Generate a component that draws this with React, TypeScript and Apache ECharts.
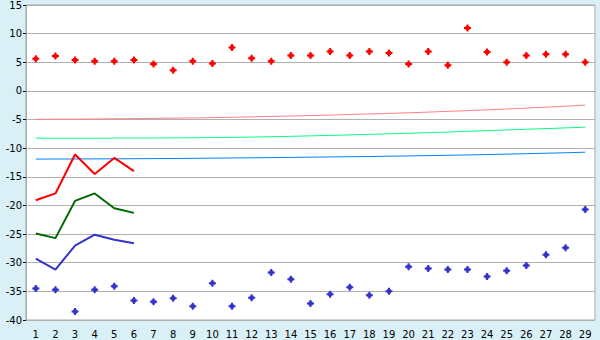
import React, { useEffect, useRef } from "react";
import * as echarts from "echarts";

const categories = Array.from({ length: 29 }, (_, i) => String(i + 1));

const redPoints = [5.6, 6.1, 5.4, 5.2, 5.2, 5.4, 4.7, 3.6, 5.2, 4.8, 7.6, 5.7, 5.2, 6.2, 6.2, 6.9, 6.2, 6.9, 6.6, 4.7, 6.9, 4.5, 11.0, 6.8, 5.0, 6.2, 6.4, 6.4, 5.0];
const bluePoints = [-34.5, -34.7, -38.5, -34.7, -34.1, -36.6, -36.8, -36.2, -37.6, -33.6, -37.6, -36.1, -31.7, -32.9, -37.1, -35.5, -34.3, -35.7, -35.0, -30.7, -31.0, -31.2, -31.2, -32.4, -31.4, -30.5, -28.6, -27.4, -20.7];

const pinkLine = [-4.96, -4.94, -4.92, -4.9, -4.87, -4.84, -4.8, -4.76, -4.72, -4.67, -4.6, -4.53, -4.46, -4.38, -4.3, -4.22, -4.12, -4.02, -3.92, -3.82, -3.7, -3.57, -3.44, -3.3, -3.16, -3.0, -2.84, -2.67, -2.49];
const lightGreenLine = [-8.25, -8.25, -8.25, -8.25, -8.24, -8.23, -8.22, -8.2, -8.18, -8.15, -8.11, -8.06, -8.0, -7.93, -7.85, -7.77, -7.68, -7.59, -7.5, -7.4, -7.29, -7.18, -7.06, -6.94, -6.82, -6.7, -6.58, -6.46, -6.33];
const skyBlueLine = [-11.9, -11.89, -11.88, -11.87, -11.86, -11.84, -11.82, -11.8, -11.77, -11.74, -11.71, -11.68, -11.65, -11.61, -11.57, -11.53, -11.49, -11.45, -11.4, -11.35, -11.3, -11.24, -11.18, -11.11, -11.04, -10.96, -10.88, -10.8, -10.7];

const redThick = [-19.1, -17.9, -11.1, -14.5, -11.7, -14.0];
const greenThick = [-24.9, -25.7, -19.2, -17.9, -20.5, -21.3];
const blueThick = [-29.3, -31.2, -27.0, -25.1, -26.0, -26.6];

const yTicks = { min: -40, max: 15, interval: 5 };

const markerPath = "path://M2.5,0H4.5V1.5H5.5V2.5H7V4.5H5.5V5.5H4.5V7H2.5V5.5H1.5V4.5H0V2.5H1.5V1.5H2.5Z";

export default function App() {
  const ref = useRef<HTMLDivElement>(null);
  useEffect(() => {
    document.body.style.margin = "0";
    const chart = echarts.init(ref.current!, undefined, { renderer: "svg" });
    const font = "DejaVu Sans";
    const line = (data: number[], color: string, width: number) => ({
      type: "line",
      data,
      symbol: "none",
      lineStyle: { color, width },
      itemStyle: { color },
      z: 2,
    });
    const scatter = (data: number[], color: string) => ({
      type: "scatter",
      data,
      symbol: markerPath,
      symbolSize: 7,
      itemStyle: { color, opacity: 1 },
      z: 5,
    });
    chart.setOption({
      animation: false,
      backgroundColor: "#d9f0f7",
      grid: {
        left: 26,
        right: 5,
        top: 5,
        bottom: 20,
        show: true,
        backgroundColor: "#ffffff",
        borderColor: "#a8a8a8",
        borderWidth: 1,
      },
      xAxis: {
        type: "category",
        data: categories,
        boundaryGap: true,
        axisLine: { lineStyle: { color: "#a8a8a8", width: 1 } },
        axisTick: { alignWithLabel: true, length: 5, lineStyle: { color: "#000" } },
        axisLabel: { color: "#000", fontFamily: font, fontSize: 10, margin: 9, interval: 0 },
        splitLine: { show: false },
      },
      yAxis: {
        type: "value",
        min: yTicks.min,
        max: yTicks.max,
        interval: yTicks.interval,
        axisLine: { show: true, lineStyle: { color: "#a8a8a8", width: 1 } },
        axisTick: { show: true, length: 3, lineStyle: { color: "#000" } },
        axisLabel: { color: "#000", fontFamily: font, fontSize: 10, margin: 4 },
        splitLine: { show: true, lineStyle: { color: "#b0b0b0", width: 1 } },
      },
      series: [
        line(pinkLine, "#ff8080", 1),
        line(lightGreenLine, "#00ff80", 1),
        line(skyBlueLine, "#0080ff", 1),
        line(redThick, "#ff0000", 2),
        line(greenThick, "#006600", 2),
        line(blueThick, "#3333cc", 2),
        scatter(redPoints, "#ff0000"),
        scatter(bluePoints, "#3333cc"),
      ],
    });
    return () => chart.dispose();
  }, []);
  return <div ref={ref} style={{ width: 600, height: 340 }} />;
}
